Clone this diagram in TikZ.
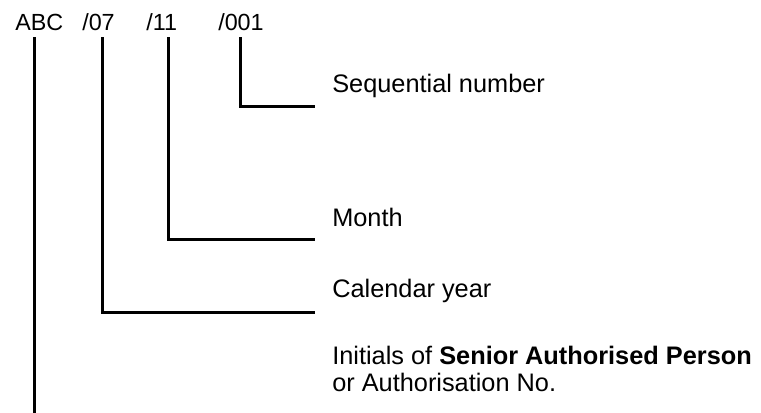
\documentclass[tikz,border=0pt]{standalone}
\usepackage{fontspec}
\setmainfont{Liberation Sans}
\usepackage{tikz}
\usetikzlibrary{positioning}

\tikzset{
    code/.style={anchor=base west, inner sep=0pt, font=\fontsize{17.5}{21}\selectfont},
    label/.style={anchor=base west, inner sep=0pt, font=\fontsize{19}{23}\selectfont},
    leader/.style={line width=2.25pt, line cap=rect}
}

\begin{document}
\begin{tikzpicture}[x=0.75pt, y=-0.75pt]

\useasboundingbox (0,0) rectangle (761,412);

% Reference number
\node[code] (abc) at (15,30) {ABC};
\node[code] (yr) at (82,30) {/07};
\node[code] (mon) at (146,30) {/11};
\node[code] (num) at (218,30) {/001};

% Explanations
\node[label] (seq) at (332,92) {Sequential number};
\node[label] (month) at (332,226) {Month};
\node[label] (cal) at (332,297) {Calendar year};
\node[label] (init) at (332,364) {Initials of \textbf{Senior Authorised Person}};
\node[label] (initb) at (332,391) {or Authorisation No.};

% Leader lines
\coordinate (abctop) at (34,38);
\coordinate (abcend) at (34,412);
\coordinate (yrtop) at (102,38);
\coordinate (yrend) at (313,312);
\coordinate (montop) at (168,38);
\coordinate (monend) at (313,239);
\coordinate (numtop) at (240,38);
\coordinate (numend) at (313,106);

\draw[leader] (abctop) -- (abcend);
\draw[leader] (yrtop) |- (yrend);
\draw[leader] (montop) |- (monend);
\draw[leader] (numtop) |- (numend);

\end{tikzpicture}
\end{document}
